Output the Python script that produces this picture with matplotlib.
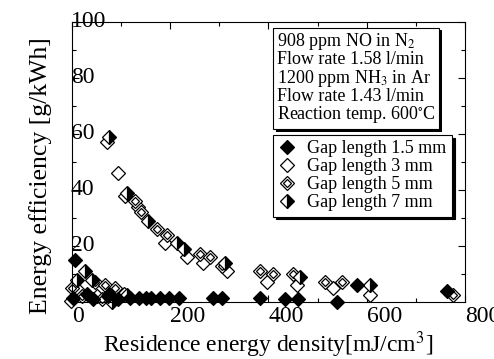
import matplotlib
matplotlib.use("Agg")
import matplotlib.pyplot as plt
import matplotlib.patheffects as pe
from matplotlib.legend_handler import HandlerTuple

plt.rcParams['font.family'] = ['Liberation Serif', 'DejaVu Serif']
plt.rcParams['mathtext.fontset'] = 'stix'

# gap length 1.5 mm (filled diamonds)
x_15 = [5, 2, 30, 43, 73, 94, 118, 136, 150, 160, 180, 198, 218, 287, 305, 383, 434, 460, 540, 580, 764]
y_15 = [15, 1.5, 3, 1, 2, 1, 1.5, 1.5, 1.5, 1.5, 1.5, 1.5, 1.5, 1.5, 1.5, 1.5, 1, 1, 0, 6, 4]

# gap length 3 mm (open diamonds)
x_3 = [-3, 15, 50, 105, 72, 94, 108, 134, 189, 234, 267, 316, 397, 458, 532, 607]
y_3 = [0.5, 4, 2, 3, 57, 46, 38, 34, 21, 16, 14, 11, 7, 6, 5, 2.5]

# gap length 5 mm (double diamonds)
x_5 = [0, 20, 47, 60, 67, 88, 128, 140, 173, 193, 261, 280, 305, 383, 410, 450, 515, 550, 776]
y_5 = [5, 2, 7, 1, 6, 5, 36, 32, 26, 24, 17, 16, 13, 11, 10, 10, 7, 7, 2.5]

# gap length 7 mm (half filled diamonds)
x_7 = [10, 26, 41, 75, 82, 112, 76, 112, 155, 214, 228, 312, 464, 607]
y_7 = [8, 11, 8, 3, 0, 2.5, 59, 39, 29, 21, 19, 14, 9, 6]

xticks = [0, 200, 400, 600, 800]
yticks = [20, 40, 60, 80, 100]

info = ("908 ppm NO in N$_2$\nFlow rate 1.58 l/min\n1200 ppm NH$_3$ in Ar\n"
        "Flow rate 1.43 l/min\nReaction temp. 600$^{\\circ}$C")

fig = plt.figure(figsize=(4.94, 3.59), dpi=100)
ax = fig.add_axes([0.146, 0.159, 0.795, 0.780])

ms = 7.5
mew = 0.9
h3, = ax.plot(x_3, y_3, 'D', ms=ms, mfc='white', mec='black', mew=mew, clip_on=False)
h5a, = ax.plot(x_5, y_5, 'D', ms=ms, mfc='white', mec='black', mew=mew, clip_on=False)
h5b, = ax.plot(x_5, y_5, 'D', ms=3.6, mfc='white', mec='black', mew=mew, clip_on=False)
h7, = ax.plot(x_7, y_7, 'D', ms=ms, mfc='black', mfcalt='white', fillstyle='right',
              mec='black', mew=mew, clip_on=False)
h15, = ax.plot(x_15, y_15, 'D', ms=ms, mfc='black', mec='black', mew=mew, clip_on=False)

ax.set_xlim(0, 800)
ax.set_ylim(0, 100)
ax.set_xticks(xticks)
ax.set_xticklabels([str(v) for v in xticks], ha='left')
ax.set_xticks([100, 300, 500, 700], minor=True)
ax.set_yticks(yticks)
ax.set_yticklabels([str(v) for v in yticks], ha='left', va='center')
ax.set_yticks([10, 30, 50, 70, 90], minor=True)
ax.tick_params(which='both', direction='in', top=True, right=True, width=0.8,
               labelsize=17)
ax.tick_params(which='major', length=5)
ax.tick_params(which='minor', length=3)
ax.tick_params(axis='x', pad=3)
ax.tick_params(axis='y', pad=1)
for s in ax.spines.values():
    s.set_linewidth(0.8)

ax.set_xlabel("Residence energy density[mJ/cm$^3$]", fontsize=17, labelpad=2)
ax.set_ylabel("Energy efficiency [g/kWh]", fontsize=18.5)
ax.yaxis.set_label_coords(-0.052, 0.45)

t = ax.text(0.521, 0.967, info, transform=ax.transAxes, fontsize=13,
            va='top', ha='left', linespacing=0.95,
            bbox=dict(boxstyle='square,pad=0.2', fc='white', ec='black', lw=0.8))
t.get_bbox_patch().set_path_effects([
    pe.SimplePatchShadow(offset=(2, -2), shadow_rgbFace='black', alpha=1),
    pe.Normal()])

leg = ax.legend([h15, h3, (h5a, h5b), h7],
                ["Gap length 1.5 mm", "Gap length 3 mm", "Gap length 5 mm", "Gap length 7 mm"],
                handler_map={tuple: HandlerTuple(ndivide=1)},
                loc='upper left', bbox_to_anchor=(0.511, 0.596), fontsize=13,
                frameon=True, fancybox=False, shadow={'color': 'black', 'alpha': 1},
                borderaxespad=0, handlelength=1.0, handletextpad=0.6,
                labelspacing=0.05, borderpad=0.3, framealpha=1)
leg.get_frame().set_edgecolor('black')
leg.get_frame().set_linewidth(0.8)

fig.savefig("out.png", dpi=100)
